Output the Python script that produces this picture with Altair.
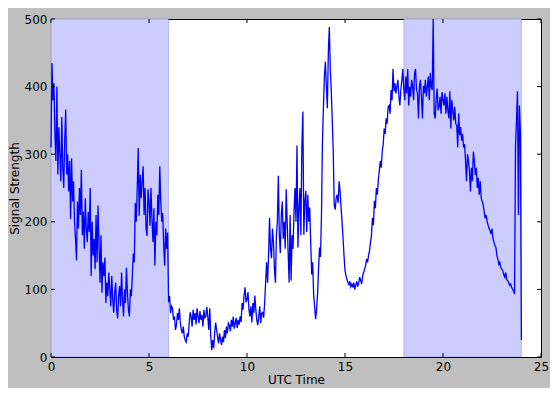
import altair as alt
import pandas as pd

sig_00_04 = [
    310, 435, 380, 405, 330, 290, 400, 270, 340, 300, 260, 355, 280, 250, 320, 366, 270, 300, 245, 290,
    204, 294, 230, 260, 200, 175, 143, 230, 190, 250, 210, 277, 180, 215, 160, 235, 190, 170, 215, 185,
    250, 120, 200, 150, 175, 130, 210, 140, 224, 165, 110, 180, 95, 140, 120, 147, 80, 110, 90, 125,
    100, 75, 120, 85, 65, 95, 110, 70, 57, 90, 105, 75, 125, 85, 60, 100, 80, 132, 95, 70,
]
sig_04_08 = [
    60, 100, 90, 120, 153, 140, 228, 200, 250, 309, 209, 270, 235, 260, 282, 210, 250, 190, 179, 248,
    230, 194, 250, 205, 170, 220, 135, 200, 180, 240, 210, 282, 230, 200, 213, 165, 135, 190, 160, 184,
    81, 90, 65, 75, 72, 55, 60, 40, 47, 65, 55, 72, 50, 40, 35, 45, 30, 25, 22, 35,
    30, 50, 66, 60, 45, 70, 55, 65, 48, 72, 60, 50, 68, 55, 62, 45, 70, 58, 60, 74,
]
sig_08_12 = [
    60, 40, 72, 32, 10, 25, 13, 35, 51, 40, 30, 20, 35, 25, 18, 30, 22, 40, 28, 45,
    35, 50, 47, 38, 55, 45, 60, 42, 50, 58, 43, 55, 48, 60, 52, 80, 70, 91, 103, 81,
    85, 96, 70, 60, 75, 51, 80, 65, 91, 70, 55, 47, 60, 75, 50, 65, 66, 58, 80, 110,
    140, 110, 150, 206, 160, 146, 190, 170, 130, 110, 180, 200, 268, 180, 154, 210, 230, 175, 200, 160,
]
sig_12_16 = [
    248, 200, 154, 110, 210, 113, 180, 160, 216, 250, 200, 313, 162, 220, 250, 180, 313, 363, 181, 230,
    246, 185, 240, 200, 221, 170, 122, 140, 93, 75, 56, 70, 93, 130, 162, 148, 210, 319, 370, 416,
    437, 400, 368, 451, 488, 426, 393, 350, 304, 225, 218, 235, 240, 228, 260, 245, 221, 200, 176, 150,
    128, 120, 115, 110, 107, 112, 104, 108, 103, 110, 100, 106, 112, 104, 110, 118, 113, 108, 120, 125,
]
sig_16_20 = [
    130, 135, 145, 140, 150, 157, 170, 180, 206, 195, 231, 220, 250, 240, 262, 275, 290, 280, 304, 315,
    338, 330, 353, 345, 370, 372, 360, 395, 380, 426, 393, 405, 390, 401, 410, 385, 372, 395, 410, 426,
    397, 380, 415, 390, 426, 372, 400, 385, 410, 401, 380, 420, 426, 395, 390, 353, 401, 410, 385, 353,
    401, 390, 410, 385, 400, 415, 380, 420, 400, 395, 500, 360, 353, 380, 397, 365, 370, 385, 360, 392,
]
sig_20_24 = [
    380, 372, 390, 360, 385, 365, 353, 393, 338, 380, 365, 350, 370, 345, 343, 310, 360, 328, 340, 320,
    330, 310, 315, 290, 260, 300, 290, 275, 245, 280, 260, 304, 290, 269, 280, 250, 265, 240, 260, 235,
    230, 225, 215, 205, 210, 201, 195, 190, 187, 182, 190, 175, 170, 165, 162, 150, 145, 137, 140, 132,
    130, 128, 122, 118, 125, 115, 113, 110, 106, 108, 103, 100, 98, 93, 313, 350, 393, 210, 372, 330,
    25,
]
sample_step = 0.05

# Night shading spans (UTC hours)
span_start = [0, 18]
span_end = [6, 24]

x_ticks = [0, 5, 10, 15, 20, 25]
y_ticks = [0, 100, 200, 300, 400, 500]

signal = sig_00_04 + sig_04_08 + sig_08_12 + sig_12_16 + sig_16_20 + sig_20_24
df = pd.DataFrame({"t": [round(i * sample_step, 3) for i in range(len(signal))], "v": signal})
spans = pd.DataFrame({"x0": span_start, "x1": span_end})
xt = pd.DataFrame({"x": x_ticks})
yt = pd.DataFrame({"y": y_ticks})

W, H = 490, 338
FONT = "DejaVu Sans"

xscale = alt.Scale(domain=[0, 25], nice=False, zero=False)
yscale = alt.Scale(domain=[0, 500], nice=False)

shade = alt.Chart(spans).mark_rect(
    color="#ccccff", stroke="#0000ff", strokeOpacity=0.2, strokeWidth=1
).encode(
    x=alt.X("x0:Q", scale=xscale, title="UTC Time",
            axis=alt.Axis(values=x_ticks, ticks=False, labelPadding=4, titlePadding=2,
                          labelFlush=False, domain=False, grid=False, format="d")),
    x2="x1:Q",
    y=alt.value(0),
    y2=alt.value(H),
)

line = alt.Chart(df).mark_line(color="#0000ff", strokeWidth=1.3).encode(
    x=alt.X("t:Q", scale=xscale),
    y=alt.Y("v:Q", scale=yscale, title="Signal Strength",
            axis=alt.Axis(values=y_ticks, ticks=False, labelPadding=4, titlePadding=3,
                          labelFlush=False, domain=False, grid=False, format="d")),
)

tb = alt.Chart(xt).mark_rule(color="black", strokeWidth=1).encode(
    x=alt.X("x:Q", scale=xscale), y=alt.value(H), y2=alt.value(H - 4))
tt = alt.Chart(xt).mark_rule(color="black", strokeWidth=1).encode(
    x=alt.X("x:Q", scale=xscale), y=alt.value(0), y2=alt.value(4))
tl = alt.Chart(yt).mark_rule(color="black", strokeWidth=1).encode(
    y=alt.Y("y:Q", scale=yscale), x=alt.value(0), x2=alt.value(4))
tr = alt.Chart(yt).mark_rule(color="black", strokeWidth=1).encode(
    y=alt.Y("y:Q", scale=yscale), x=alt.value(W), x2=alt.value(W - 4))

chart = alt.layer(shade, line, tb, tt, tl, tr).properties(
    width=W, height=H,
    autosize=alt.AutoSizeParams(type="none"),
    padding={"left": 43, "top": 11, "right": 9, "bottom": 31},
).configure(
    background="#bfbfbf",
    font=FONT,
).configure_view(
    fill="white", stroke="black", strokeWidth=1,
).configure_axis(
    labelFont=FONT, titleFont=FONT, labelFontSize=12, titleFontSize=12,
    labelColor="black", titleColor="black", titleFontWeight="normal",
)

chart.save("out.html", embed_options={"renderer": "svg", "actions": False})
